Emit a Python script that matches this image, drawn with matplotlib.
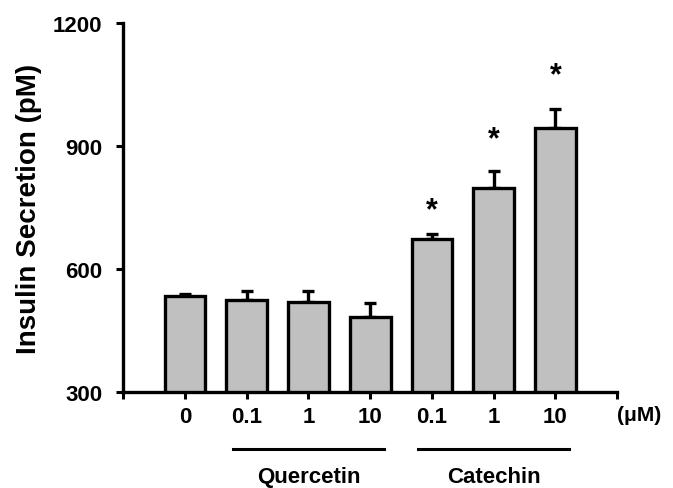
import numpy as np
import matplotlib.pyplot as plt

plt.rcParams['font.family'] = ['Liberation Sans', 'DejaVu Sans']
plt.rcParams['font.weight'] = 'bold'

# data
doses = ['0', '0.1', '1', '10', '0.1', '1', '10']
insulin = [535, 525, 520, 482, 673, 798, 944]
sem = [5, 22, 27, 35, 12, 42, 46]
star_y = [None, None, None, None, 743, 917, 1073]
groups = ['Quercetin', 'Catechin']
group_idx = [[1, 2, 3], [4, 5, 6]]

x = np.arange(len(doses))

fig = plt.figure(figsize=(6.73, 4.89), dpi=100)
ax = fig.add_axes([0.183, 0.196, 0.734, 0.755])

ax.bar(x, insulin, width=0.66, color='#c0c0c0', edgecolor='black', linewidth=2.4, zorder=2)
ax.errorbar(x, insulin, yerr=[np.zeros(len(sem)), sem], fmt='none', ecolor='black',
            elinewidth=2.4, capsize=4.5, capthick=2.4, zorder=1)

for xi, sy in zip(x, star_y):
    if sy is not None:
        ax.text(xi, sy, '*', ha='center', va='center', fontsize=22, fontweight='bold')

ax.set_xlim(-1, 7)
ax.set_ylim(300, 1200)
ax.set_yticks([300, 600, 900, 1200])
ax.set_xticks(x)
ax.set_xticklabels(doses)
ax.set_xticks([-1, 7], minor=True)
ax.tick_params(axis='both', which='both', labelsize=16, width=2.2, length=5, direction='out')
ax.tick_params(axis='x', pad=5)
ax.tick_params(axis='y', pad=10)
ax.set_ylabel('Insulin Secretion (pM)', fontsize=20, fontweight='bold', labelpad=8)

for side in ['top', 'right']:
    ax.spines[side].set_visible(False)
for side in ['left', 'bottom']:
    ax.spines[side].set_linewidth(2.4)

ax.text(7.35, -0.06, '(μM)', transform=ax.get_xaxis_transform(), ha='center', va='center',
        fontsize=15, fontweight='bold')

for name, idx in zip(groups, group_idx):
    ax.plot([idx[0] - 0.22, idx[-1] + 0.22], [-0.155, -0.155], color='black', lw=2.2,
            transform=ax.get_xaxis_transform(), clip_on=False)
    ax.text(np.mean(idx), -0.228, name, transform=ax.get_xaxis_transform(), ha='center',
            va='center', fontsize=16, fontweight='bold')

fig.savefig('out.png', dpi=100)
